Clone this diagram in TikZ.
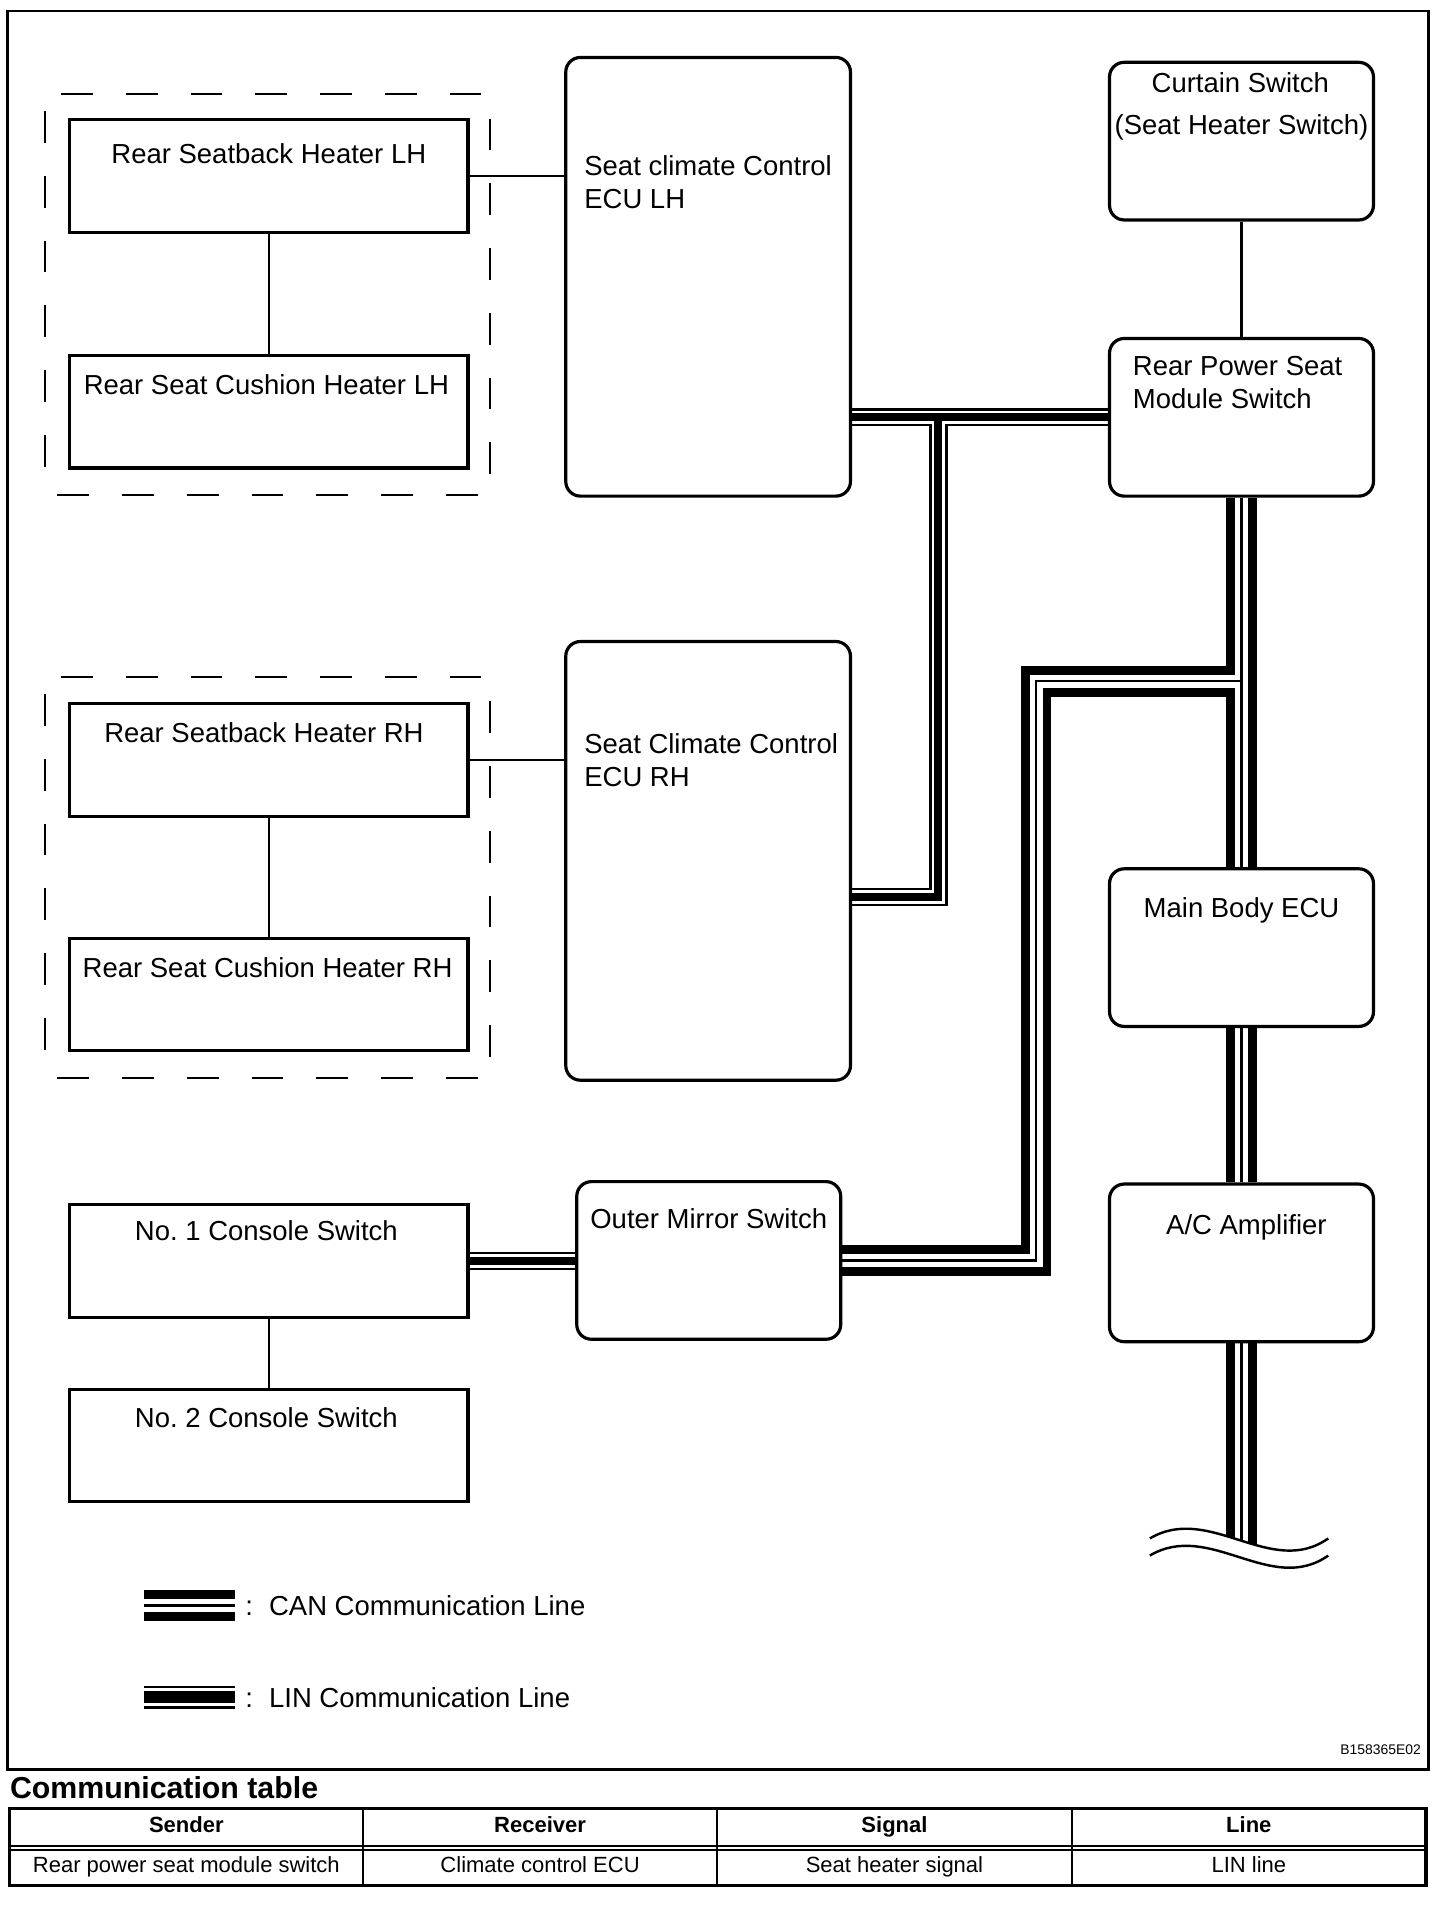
\documentclass[tikz,border=0pt]{standalone}
\usepackage{fontspec}
\setmainfont{Liberation Sans}
\frenchspacing
\pgfdeclarelayer{bg}
\pgfsetlayers{bg,main}
\newcommand\canroutes[1]{%
  \draw[#1] (rpsm.south) -- (mbe.north);
  \draw[#1] (mbe.south) -- (aca.north);
  \draw[#1] (aca.south) -- (cend);
  \draw[#1] (j1) -| (cb) |- (oms.east);
}
\newcommand\linroutes[1]{%
  \draw[#1] (ecul.east |- rpsm.west) -- (rpsm.west);
  \draw[#1] (l1) -- (l2) -- (ecur.east |- l2);
  \draw[#1] (cs1.east) -- (oms.west |- cs1.east);
}
\begin{document}
\begin{tikzpicture}[x=1pt,y=-1pt,
  box/.style={draw, line width=2.6pt, fill=white, inner sep=0pt},
  rbox/.style={box, rounded corners=12pt},
  lbl/.style={inner sep=0pt, anchor=base, font=\fontsize{22.5}{27}\selectfont},
  lbll/.style={lbl, anchor=base west},
  wire/.style={line width=2pt},
  grp/.style={draw, line width=2pt, dash pattern=on 26pt off 27pt, dash phase=43pt, inner sep=0pt},
  canA/.style={line width=25pt}, canB/.style={line width=10.5pt, white}, canC/.style={line width=2pt},
  linA/.style={line width=15pt}, linB/.style={line width=11pt, white}, linC/.style={line width=6.5pt},
  hdr/.style={inner sep=0pt, anchor=base, font=\bfseries\fontsize{18}{22}\selectfont},
  cell/.style={inner sep=0pt, anchor=base, font=\fontsize{18}{22}\selectfont},
]
\useasboundingbox (0,0) rectangle (1191.5,1568);

% frame
\draw[line width=2pt] (6,9) rectangle (1169,1448);

% dashed groups
\node[grp, minimum width=364pt, minimum height=328pt] (grpL) at (219,241) {};
\node[grp, minimum width=364pt, minimum height=328pt] (grpR) at (219,718) {};

% square boxes
\node[box, minimum width=326pt, minimum height=92pt] (sbl) at (220,144) {};
\node[box, minimum width=326pt, minimum height=92pt] (scl) at (220,337) {};
\node[box, minimum width=326pt, minimum height=92pt] (sbr) at (220,622) {};
\node[box, minimum width=326pt, minimum height=92pt] (scr) at (220,814) {};
\node[box, minimum width=326pt, minimum height=92pt] (cs1) at (220,1032) {};
\node[box, minimum width=326pt, minimum height=92pt] (cs2) at (220,1183) {};

% rounded boxes
\node[rbox, minimum width=233pt, minimum height=359pt] (ecul) at (579.5,226.5) {};
\node[rbox, minimum width=233pt, minimum height=359pt] (ecur) at (579.5,704.5) {};
\node[rbox, minimum width=216pt, minimum height=129pt] (cur) at (1016,115.5) {};
\node[rbox, minimum width=216pt, minimum height=129pt] (rpsm) at (1016,341.5) {};
\node[rbox, minimum width=216pt, minimum height=129pt] (mbe) at (1016,775.5) {};
\node[rbox, minimum width=216pt, minimum height=129pt] (aca) at (1016,1033.5) {};
\node[rbox, minimum width=216pt, minimum height=129pt] (oms) at (580,1031.5) {};

% labels
\node[lbl] (tsbl) at (220,134) {Rear Seatback Heater LH};
\node[lbl] (tscl) at (218,323) {Rear Seat Cushion Heater LH};
\node[lbl] (tsbr) at (216,608) {Rear Seatback Heater RH};
\node[lbl] (tscr) at (219,800) {Rear Seat Cushion Heater RH};
\node[lbl] (tcs1) at (218,1015) {No. 1 Console Switch};
\node[lbl] (tcs2) at (218,1168) {No. 2 Console Switch};
\node[lbll] (tecul1) at (478,144) {Seat climate Control};
\node[lbll] (tecul2) at (478,171) {ECU LH};
\node[lbll] (tecur1) at (478,617) {Seat Climate Control};
\node[lbll] (tecur2) at (478,644) {ECU RH};
\node[lbl] (tcur1) at (1015,76) {Curtain Switch};
\node[lbl] (tcur2) at (1016,110) {(Seat Heater Switch)};
\node[lbll] (trpsm1) at (927,307) {Rear Power Seat};
\node[lbll] (trpsm2) at (927,334) {Module Switch};
\node[lbl] (tmbe) at (1016,751) {Main Body ECU};
\node[lbl] (taca) at (1020,1010) {A/C Amplifier};
\node[lbl] (toms) at (580,1005) {Outer Mirror Switch};

% helper coordinates
\coordinate (j1) at (1016,557.5);
\coordinate (cb) at (848,800);
\coordinate (cend) at (1016,1285);
\coordinate (l1) at (768,341.5);
\coordinate (l2) at (768,734);

\begin{pgfonlayer}{bg}
  % plain connectors
  \draw[wire] (sbl.east) -- (ecul.west |- sbl.east);
  \draw[wire] (sbl.south) -- (scl.north);
  \draw[wire] (sbr.east) -- (ecur.west |- sbr.east);
  \draw[wire] (sbr.south) -- (scr.north);
  \draw[wire] (cs1.south) -- (cs2.north);
  \draw[wire] (cur.south) -- (rpsm.north);
  % LIN lines
  \linroutes{linA}
  \linroutes{linB}
  \linroutes{linC}
  % CAN lines
  \canroutes{canA}
  \canroutes{canB}
  \canroutes{canC}
  % break mark
  \path[fill=white] (941,1259) .. controls (990,1230) and (1040,1292) .. (1087,1259) -- (1087,1310) -- (941,1310) -- cycle;
  \draw[wire] (941,1259) .. controls (990,1230) and (1040,1292) .. (1087,1259);
  \draw[wire] (941,1273) .. controls (990,1244) and (1040,1306) .. (1087,1273);
\end{pgfonlayer}

% legend
\coordinate (canL1) at (118,1314);
\coordinate (canL2) at (192,1314);
\coordinate (linL1) at (118,1389);
\coordinate (linL2) at (192,1389);
\draw[canA] (canL1) -- (canL2);
\draw[canB] (canL1) -- (canL2);
\draw[canC] (canL1) -- (canL2);
\draw[line width=19pt] (linL1) -- (linL2);
\draw[line width=14.5pt, white] (linL1) -- (linL2);
\draw[line width=9.5pt] (linL1) -- (linL2);
\node[lbl] (c1) at (204,1322) {:};
\node[lbll] (lcan) at (220,1322) {CAN Communication Line};
\node[lbl] (c2) at (204,1397) {:};
\node[lbll] (llin) at (220,1397) {LIN Communication Line};

\node[inner sep=0pt, anchor=base east, font=\fontsize{11.4}{13}\selectfont] (code) at (1163,1436) {B158365E02};

% table
\node[inner sep=0pt, anchor=base west, font=\bfseries\fontsize{24.8}{30}\selectfont] (ttitle) at (8,1472) {Communication table};
\draw[line width=2.5pt] (8,1480) rectangle (1167,1543);
\foreach \x in {297,587,877} \draw[line width=1.5pt] (\x,1480) -- (\x,1543);
\draw[line width=1.5pt] (8,1510.5) -- (1167,1510.5);
\draw[line width=1.5pt] (8,1514) -- (1167,1514);
\node[hdr] (h1) at (152.5,1500) {Sender};
\node[hdr] (h2) at (442,1500) {Receiver};
\node[hdr] (h3) at (732,1500) {Signal};
\node[hdr] (h4) at (1022,1500) {Line};
\node[cell] (b1) at (152.5,1532) {Rear power seat module switch};
\node[cell] (b2) at (442,1532) {Climate control ECU};
\node[cell] (b3) at (732,1532) {Seat heater signal};
\node[cell] (b4) at (1022,1532) {LIN line};
\end{tikzpicture}
\end{document}
